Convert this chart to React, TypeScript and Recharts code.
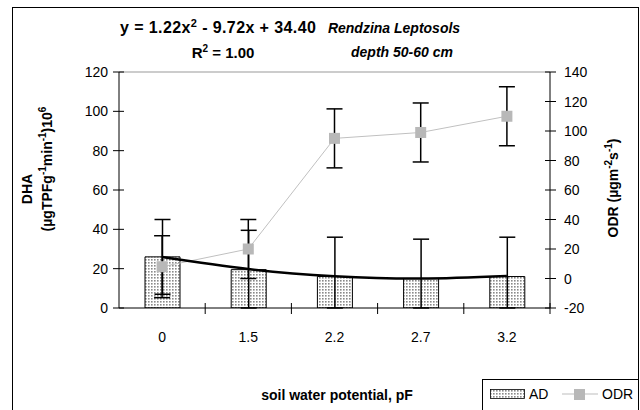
import React from 'react';
import { ComposedChart, Bar, Line, XAxis, YAxis, ErrorBar, ReferenceLine, Legend } from 'recharts';

const categories = ['0', '1.5', '2.2', '2.7', '3.2'];
const adValues = [26, 19.5, 16, 15, 16];
const adErrLow = [19, 19.5, 16, 15, 16];
const adErrHigh = [19, 20, 20, 20, 20];
const odrValues = [8, 20, 95, 99, 110];
const odrErrors = [21, 20, 20, 20, 20];
const trendValues = [25.9, 19.8, 16.2, 15.0, 16.3];
const leftTicks = [0, 20, 40, 60, 80, 100, 120];
const rightTicks = [-20, 0, 20, 40, 60, 80, 100, 120, 140];

const data = categories.map((c, i) => ({
  x: c,
  ad: adValues[i],
  adErr: [adErrLow[i], adErrHigh[i]],
  odr: odrValues[i],
  odrErr: odrErrors[i],
  trend: trendValues[i],
}));

const FONT = '"Liberation Sans", Arial, sans-serif';
const PLOT_LEFT = 119;
const PLOT_RIGHT = 550;
const PLOT_BOTTOM = 308;
const BAND = (PLOT_RIGHT - PLOT_LEFT) / categories.length;

const LeftTick = (props: any) => {
  const { y, payload } = props;
  return (
    <g>
      <line x1={PLOT_LEFT - 6} x2={PLOT_LEFT + 5} y1={y} y2={y} stroke="#000" />
      <text x={PLOT_LEFT - 11} y={y + 5} textAnchor="end" fontSize={14} fontFamily={FONT} fill="#000">
        {payload.value}
      </text>
    </g>
  );
};

const RightTick = (props: any) => {
  const { y, payload } = props;
  return (
    <g>
      <line x1={PLOT_RIGHT - 5} x2={PLOT_RIGHT + 6} y1={y} y2={y} stroke="#000" />
      <text x={PLOT_RIGHT + 14} y={y + 5} textAnchor="start" fontSize={14} fontFamily={FONT} fill="#000">
        {payload.value}
      </text>
    </g>
  );
};

const XTick = (props: any) => {
  const { x, payload } = props;
  const bx = x + BAND / 2;
  return (
    <g>
      <line x1={bx} x2={bx} y1={PLOT_BOTTOM - 5} y2={PLOT_BOTTOM + 6} stroke="#000" />
      <text x={x} y={PLOT_BOTTOM + 34} textAnchor="middle" fontSize={14} fontFamily={FONT} fill="#000">
        {payload.value}
      </text>
    </g>
  );
};

const SquareDot = (props: any) => {
  const { cx, cy, index } = props;
  if (cx == null || cy == null) return <g key={index} />;
  return <rect key={index} x={cx - 5.5} y={cy - 5.5} width={11} height={11} fill="#b8b8b8" />;
};

const LegendContent = () => (
  <div
    style={{
      position: 'absolute',
      left: 482,
      top: 379,
      width: 155,
      height: 40,
      borderLeft: '1px solid #000',
      borderTop: '1px solid #000',
      background: '#fff',
      overflow: 'hidden',
      fontFamily: FONT,
      fontSize: 14,
    }}
  >
    <svg width={155} height={40} style={{ position: 'absolute', left: 0, top: 0 }}>
      <defs>
        <pattern id="dotsLegend" width={3} height={3} patternUnits="userSpaceOnUse">
          <rect width={3} height={3} fill="#fff" />
          <rect x={1} y={1} width={1.6} height={1.6} fill="#8a8a8a" />
        </pattern>
      </defs>
      <rect x={7.5} y={9.5} width={34} height={9} fill="url(#dotsLegend)" stroke="#000" strokeWidth={0.8} />
      <text x={46} y={19} fontSize={14} fontFamily={FONT} fill="#000">AD</text>
      <line x1={79} x2={115} y1={14} y2={14} stroke="#bdbdbd" strokeWidth={1} />
      <rect x={91} y={9} width={11} height={11} fill="#b8b8b8" />
      <text x={119} y={19} fontSize={14} fontFamily={FONT} fill="#000">ODR</text>
    </svg>
  </div>
);

export default function App() {
  return (
    <div
      style={{
        position: 'absolute',
        left: 0,
        top: 0,
        width: 640,
        height: 410,
        overflow: 'hidden',
        background: '#fff',
        fontFamily: FONT,
      }}
    >
      <div style={{ position: 'absolute', left: 0, top: 0 }}>
        <ComposedChart
          width={640}
          height={410}
          data={data}
          margin={{ top: 72, right: 0, bottom: 72, left: 0 }}
          barSize={35}
        >
          <defs>
            <pattern id="dots" width={3} height={3} patternUnits="userSpaceOnUse">
              <rect width={3} height={3} fill="#fff" />
              <rect x={1} y={1} width={1.6} height={1.6} fill="#8a8a8a" />
            </pattern>
          </defs>
          <XAxis
            dataKey="x"
            type="category"
            axisLine={{ stroke: '#000' }}
            tickLine={false}
            tick={<XTick />}
            height={30}
            interval={0}
          />
          <YAxis
            yAxisId="left"
            orientation="left"
            domain={[0, 120]}
            ticks={leftTicks}
            width={119}
            axisLine={{ stroke: '#000' }}
            tickLine={false}
            tick={<LeftTick />}
            allowDataOverflow
          />
          <YAxis
            yAxisId="right"
            orientation="right"
            domain={[-20, 140]}
            ticks={rightTicks}
            width={90}
            axisLine={{ stroke: '#000' }}
            tickLine={false}
            tick={<RightTick />}
            allowDataOverflow
          />
          <ReferenceLine yAxisId="left" y={120} stroke="#999" strokeWidth={1} />
          <Bar yAxisId="left" dataKey="ad" fill="url(#dots)" stroke="#000" strokeWidth={1} isAnimationActive={false}>
            <ErrorBar dataKey="adErr" width={8} stroke="#000" strokeWidth={1.5} direction="y" />
          </Bar>
          <Line
            yAxisId="right"
            dataKey="odr"
            stroke="#c0c0c0"
            strokeWidth={1}
            dot={<SquareDot />}
            activeDot={false}
            isAnimationActive={false}
          >
            <ErrorBar dataKey="odrErr" width={8} stroke="#000" strokeWidth={1.5} direction="y" />
          </Line>
          <Line
            yAxisId="left"
            dataKey="trend"
            type="natural"
            stroke="#000"
            strokeWidth={2.5}
            dot={false}
            activeDot={false}
            isAnimationActive={false}
          />
          <Legend content={() => <LegendContent />} wrapperStyle={{ position: 'absolute', left: 0, top: 0, width: 0, height: 0 }} />
        </ComposedChart>
      </div>
      <div
        style={{
          position: 'absolute',
          left: 12,
          top: 7,
          width: 625,
          height: 430,
          border: '1px solid #000',
          pointerEvents: 'none',
        }}
      />
      <svg
        width={640}
        height={410}
        style={{ position: 'absolute', left: 0, top: 0, pointerEvents: 'none' }}
      >
        <text x={120} y={33} textAnchor="start" fontSize={16} letterSpacing={0.4} fontWeight="bold" fontFamily={FONT} fill="#000">
          y = 1.22x<tspan dy={-6} fontSize={11}>2</tspan><tspan dy={6}> - 9.72x + 34.40</tspan>
        </text>
        <text x={223} y={58} textAnchor="middle" fontSize={15} fontWeight="bold" fontFamily={FONT} fill="#000">
          R<tspan dy={-6} fontSize={10}>2</tspan><tspan dy={6}> = 1.00</tspan>
        </text>
        <text x={394} y={33} textAnchor="middle" fontSize={14} fontWeight="bold" fontStyle="italic" fontFamily={FONT} fill="#000">
          Rendzina Leptosols
        </text>
        <text x={402} y={57} textAnchor="middle" fontSize={14} fontWeight="bold" fontStyle="italic" fontFamily={FONT} fill="#000">
          depth 50-60 cm
        </text>
        <text x={337} y={400} textAnchor="middle" fontSize={14} fontWeight="bold" fontFamily={FONT} fill="#000">
          soil water potential, pF
        </text>
        <text
          transform="translate(32,189) rotate(-90)"
          textAnchor="middle"
          fontSize={14}
          fontWeight="bold"
          fontFamily={FONT}
          fill="#000"
        >
          DHA
        </text>
        <text
          transform="translate(52,169) rotate(-90)"
          textAnchor="middle"
          fontSize={14}
          fontWeight="bold"
          fontFamily={FONT}
          fill="#000"
        >
          (µgTPFg<tspan dy={-6} fontSize={10}>-1</tspan><tspan dy={6}>min</tspan><tspan dy={-6} fontSize={10}>-1</tspan><tspan dy={6}>)10</tspan><tspan dy={-6} fontSize={10}>6</tspan>
        </text>
        <text
          transform="translate(618,188) rotate(-90)"
          textAnchor="middle"
          fontSize={14}
          fontWeight="bold"
          fontFamily={FONT}
          fill="#000"
        >
          ODR (µgm<tspan dy={-6} fontSize={10}>-2</tspan><tspan dy={6}>s</tspan><tspan dy={-6} fontSize={10}>-1</tspan><tspan dy={6}>)</tspan>
        </text>
      </svg>
    </div>
  );
}
